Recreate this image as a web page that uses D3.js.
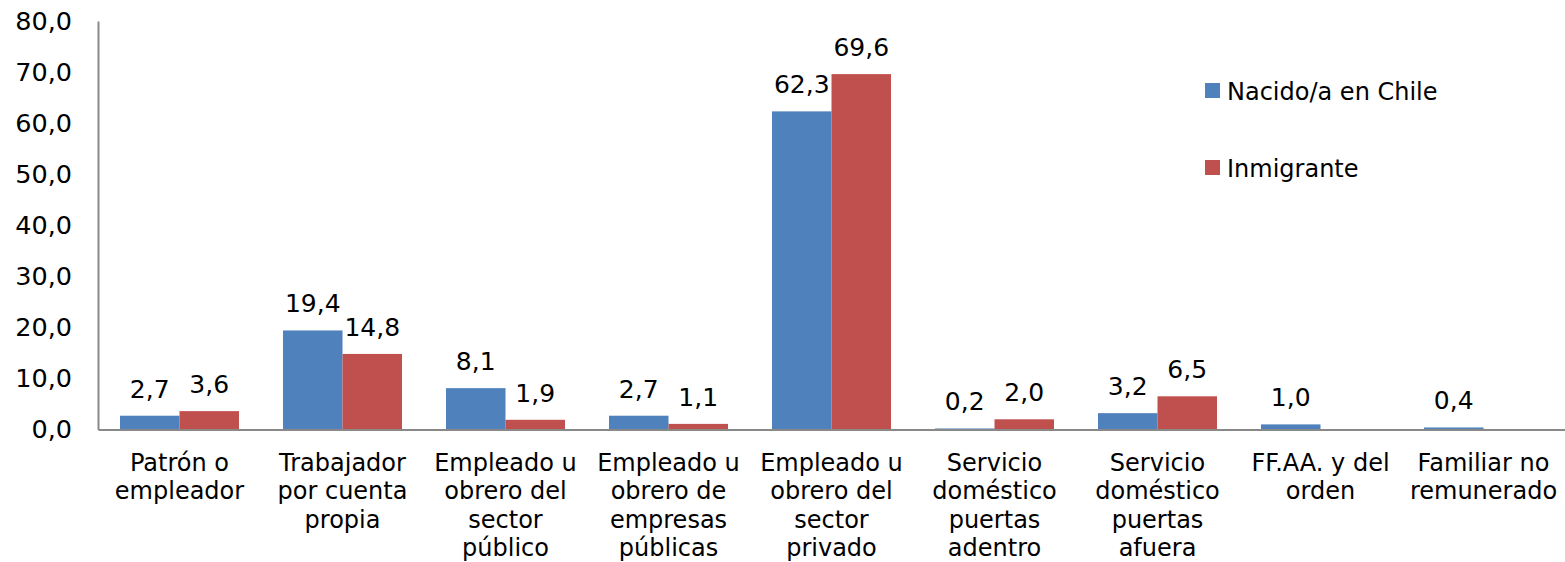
<!DOCTYPE html>
<html>
<head>
<meta charset="utf-8">
<script src="https://cdn.jsdelivr.net/npm/d3@7"></script>
<style>
  body { margin: 0; background: #fff; }
  svg text { font-family: Verdana, "DejaVu Sans", sans-serif; fill: #000; }
  .axis path { stroke: #898989; stroke-width: 2; }
</style>
</head>
<body>
<script>
const width = 1565, height = 562;
const margin = {top: 21, right: 0, bottom: 133, left: 98};

const categories = [
    "Patrón o\nempleador",
    "Trabajador\npor cuenta\npropia",
    "Empleado u\nobrero del\nsector\npúblico",
    "Empleado u\nobrero de\nempresas\npúblicas",
    "Empleado u\nobrero del\nsector\nprivado",
    "Servicio\ndoméstico\npuertas\nadentro",
    "Servicio\ndoméstico\npuertas\nafuera",
    "FF.AA. y del\norden",
    "Familiar no\nremunerado"
];
const seriesNames = ["Nacido/a en Chile", "Inmigrante"];
const nacido = [2.7, 19.4, 8.1, 2.7, 62.3, 0.2, 3.2, 1.0, 0.4];
const inmigrante = [3.6, 14.8, 1.9, 1.1, 69.6, 2.0, 6.5, null, null];
const yTicks = [0, 10, 20, 30, 40, 50, 60, 70, 80];
const colors = ["#4F81BD", "#C0504D"];

const fmt = v => v.toFixed(1).replace(".", ",");

const svg = d3.select('body').append('svg')
    .attr('width', width)
    .attr('height', height);

const x0 = d3.scaleBand().domain(categories).range([margin.left, width - margin.right]);
const x1 = d3.scaleBand().domain(seriesNames).range([0, x0.bandwidth()]).paddingOuter(0.37);
const y = d3.scaleLinear().domain([0, 80]).range([height - margin.bottom + 0.5, margin.top]);
const color = d3.scaleOrdinal().domain(seriesNames).range(colors);

const rows = categories.map((c, i) => ({cat: c, vals: [
    {name: seriesNames[0], v: nacido[i]},
    {name: seriesNames[1], v: inmigrante[i]}
]}));

// bars
const groups = svg.append('g').selectAll('g')
    .data(rows).join('g')
    .attr('transform', d => "translate(" + x0(d.cat) + ",0)");

groups.selectAll('rect')
    .data(d => d.vals.filter(e => e.v != null))
    .join('rect')
    .attr('x', d => x1(d.name))
    .attr('width', x1.bandwidth())
    .attr('y', d => y(d.v))
    .attr('height', d => y(0) - y(d.v))
    .attr('fill', d => color(d.name));

groups.selectAll('text.val')
    .data(d => d.vals.filter(e => e.v != null))
    .join('text')
    .attr('class', 'val')
    .attr('x', d => x1(d.name) + x1.bandwidth() / 2)
    .attr('y', d => y(d.v) - 18)
    .attr('text-anchor', 'middle')
    .style('font-size', '25px')
    .text(d => fmt(d.v));

// y axis
const yAxis = d3.axisLeft(y).tickValues(yTicks).tickSize(0).tickPadding(26).tickFormat(fmt);
svg.append('g')
    .attr('class', 'axis y-axis')
    .attr('transform', "translate(" + margin.left + ",0)")
    .call(yAxis)
    .call(g => g.selectAll('text').style('font-size', '25.5px'));

// x axis
const xAxis = d3.axisBottom(x0).tickSize(0).tickFormat('');
svg.append('g')
    .attr('class', 'axis x-axis')
    .attr('transform', "translate(0," + y(0) + ")")
    .call(xAxis);

svg.append('g').selectAll('text')
    .data(categories).join('text')
    .attr('x', d => x0(d) + x0.bandwidth() / 2)
    .attr('y', y(0) + 41)
    .attr('text-anchor', 'middle')
    .style('font-size', '24px')
    .selectAll('tspan')
    .data(d => d.split("\n")).join('tspan')
    .attr('x', function() { return this.parentNode.getAttribute('x'); })
    .attr('dy', (d, i) => i === 0 ? 0 : 28.5)
    .text(d => d);

// legend
const legend = svg.append('g').selectAll('g')
    .data(seriesNames).join('g')
    .attr('transform', (d, i) => "translate(1205," + (83 + i * 77) + ")");
legend.append('rect')
    .attr('width', 15).attr('height', 15)
    .attr('fill', d => color(d));
legend.append('text')
    .attr('x', 22).attr('y', 17)
    .style('font-size', '24px')
    .text(d => d);
</script>
</body>
</html>
